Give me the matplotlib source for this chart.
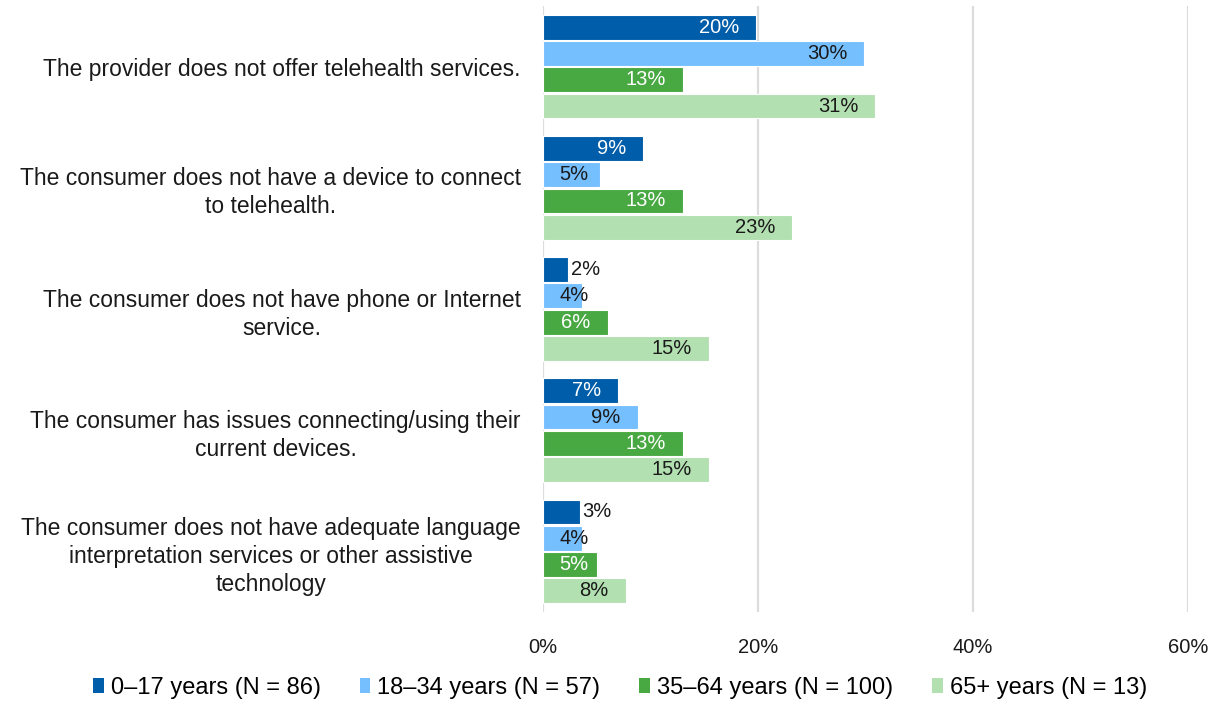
import numpy as np
import matplotlib.pyplot as plt
from matplotlib.patches import Patch
from matplotlib.transforms import offset_copy

plt.rcParams['font.family'] = ['Liberation Sans', 'DejaVu Sans']

# Reasons given for not using telehealth, by age group (%)
categories = [
    "The provider does not offer telehealth services.",
    "The consumer does not have a device to connect\nto telehealth.",
    "The consumer does not have phone or Internet\nservice.",
    "The consumer has issues connecting/using their\ncurrent devices.",
    "The consumer does not have adequate language\ninterpretation services or other assistive\ntechnology",
]
groups = ["0\u201317 years (N = 86)", "18\u201334 years (N = 57)",
          "35\u201364 years (N = 100)", "65+ years (N = 13)"]
age_0_17 = [19.8, 9.3, 2.3, 7.0, 3.4]
age_18_34 = [29.9, 5.3, 3.6, 8.8, 3.6]
age_35_64 = [13.0, 13.0, 6.0, 13.0, 5.0]
age_65_up = [30.9, 23.2, 15.4, 15.4, 7.7]
series = [age_0_17, age_18_34, age_35_64, age_65_up]

colors = ['#005DAA', '#76BFFF', '#48A842', '#B3E0B0']
text_colors = ['white', '#1a1a1a', 'white', '#1a1a1a']

fig = plt.figure(figsize=(12.17, 7.02), dpi=100)
ax = fig.add_axes([543 / 1217, 1 - 612 / 702, (1188 - 543) / 1217, 606 / 702])

y = np.arange(len(categories))
step = 0.217
height = 0.205
fs_val = 14.5
for i, vals in enumerate(series):
    ypos = y + (i - 1.5) * step
    ax.barh(ypos, vals, height=height, color=colors[i],
            edgecolor='white', linewidth=0.8, zorder=3)
    for yy, v in zip(ypos, vals):
        lbl = f"{v:.0f}%"
        if v < 3.5:
            # too short for the label: put it just past the bar end
            tr = offset_copy(ax.transData, fig=fig, x=3, y=0, units='dots')
            ax.text(v, yy, lbl, ha='left', va='center', fontsize=fs_val,
                    color='#1a1a1a', transform=tr, zorder=4)
        elif v < 5.6:
            tr = offset_copy(ax.transData, fig=fig, x=16, y=0, units='dots')
            ax.text(0, yy, lbl, ha='left', va='center', fontsize=fs_val,
                    color=text_colors[i], transform=tr, zorder=4)
        else:
            tr = offset_copy(ax.transData, fig=fig, x=-17, y=0, units='dots')
            ax.text(v, yy, lbl, ha='right', va='center', fontsize=fs_val,
                    color=text_colors[i], transform=tr, zorder=4)

ax.set_xlim(0, 60)
ax.set_ylim(4.5, -0.5)
ax.set_xticks([0, 20, 40, 60])
ax.set_xticklabels(['0%', '20%', '40%', '60%'], fontsize=14.5, color='#1a1a1a')
ax.set_yticks(y)
ax.set_yticklabels(categories, fontsize=16.5, color='#1a1a1a', linespacing=1.28)
for t in ax.get_yticklabels():
    t.set_multialignment('center')
ax.tick_params(axis='both', length=0)
ax.tick_params(axis='x', pad=19)
ax.tick_params(axis='y', pad=16)
ax.grid(axis='x', color='#DCDCDC', linewidth=1.6, zorder=0)
for s in ax.spines.values():
    s.set_visible(False)

handles = [Patch(facecolor=c, edgecolor='none') for c in colors]
fig.legend(handles, groups, loc='center', bbox_to_anchor=(620 / 1217, 1 - 688 / 702),
           ncol=4, frameon=False, fontsize=17, handlelength=0.45, handleheight=0.6,
           handletextpad=0.3, columnspacing=1.65)

fig.savefig('out.png', dpi=100)
